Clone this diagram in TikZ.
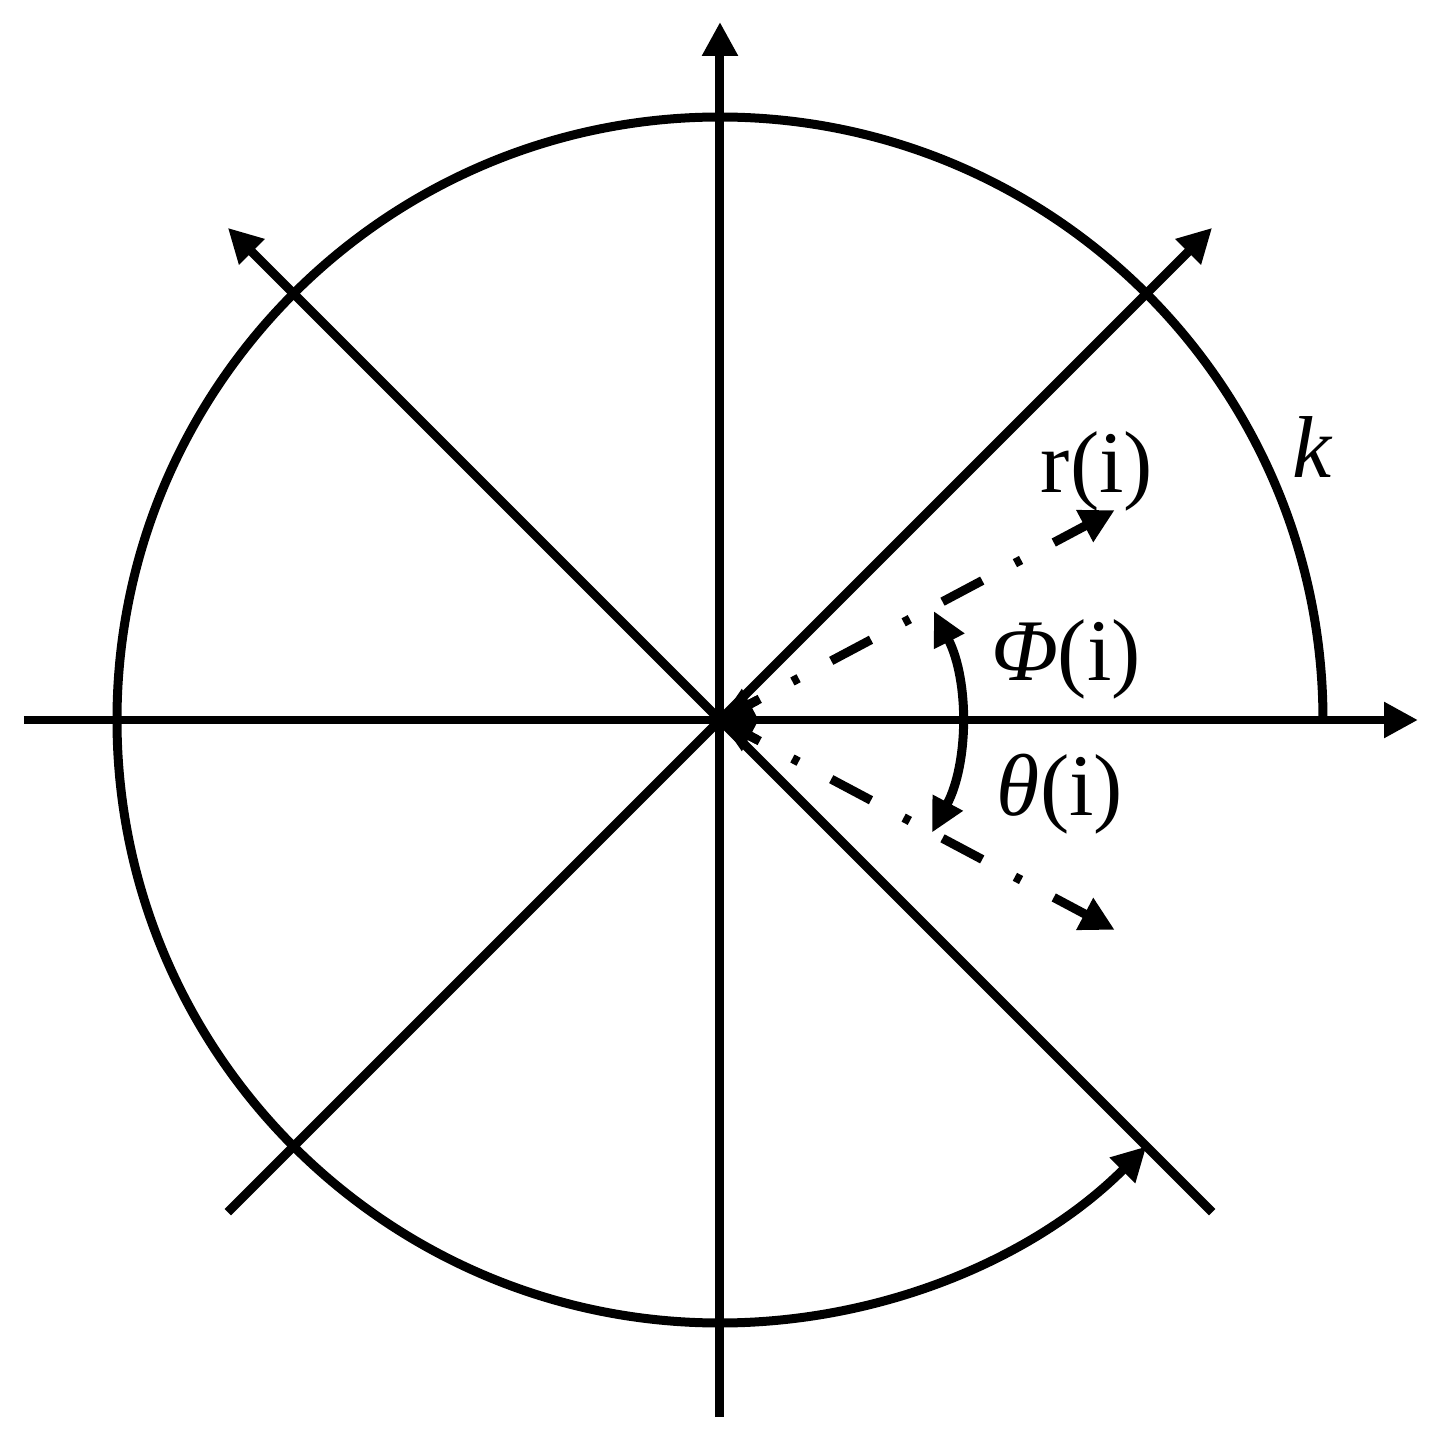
\documentclass[tikz,border=0pt]{standalone}
\usepackage{fontspec}
\setmainfont{Liberation Serif}
\usetikzlibrary{arrows.meta}
\begin{document}
\begin{tikzpicture}[x=1cm,y=1cm, line width=0.09cm,
  tip/.style={-{Triangle[length=0.34cm,width=0.34cm]}},
  twotip/.style={{Triangle[length=0.34cm,width=0.32cm]}-{Triangle[length=0.34cm,width=0.32cm]}},
  backtip/.style={{Triangle[length=0.34cm,width=0.32cm]}-},
  dashdot/.style={dash pattern=on 0.45cm off 0.37cm on 0.07cm off 0.37cm},
  lbl/.style={inner sep=0pt, font=\fontsize{25}{30}\selectfont}]
\useasboundingbox (-7.20,-7.20) rectangle (7.17,7.20);
\coordinate (O) at (0,0);
\coordinate (xl) at (-6.96,0);
\coordinate (xr) at (6.98,0);
\coordinate (yb) at (0,-6.97);
\coordinate (yt) at (0,6.98);
\coordinate (ne) at (45:6.96);
\coordinate (sw) at (225:6.96);
\coordinate (nw) at (135:6.96);
\coordinate (se) at (-45:6.96);
\coordinate (c0) at (6.03,0);
% axes
\draw[tip] (xl) -- (xr);
\draw[tip] (yb) -- (yt);
\draw[tip] (sw) -- (ne);
\draw[tip] (se) -- (nw);
% circle arc
\draw[tip] (c0) arc[start angle=0, end angle=315, radius=6.03];
% dash-dot vectors
\coordinate (ra) at (28:4.47);
\coordinate (ta) at (-28:4.47);
\coordinate (ra0) at (28:0.42);
\coordinate (ta0) at (-28:0.42);
\draw[tip, dashdot] (O) -- (ra);
\draw[tip, dashdot] (O) -- (ta);
\draw[backtip] (O) -- (ra0);
\draw[backtip] (O) -- (ta0);
% angle arc
\coordinate (a0) at (-28:2.4);
\draw[twotip] (a0) arc[start angle=-28, end angle=27, radius=2.4];
% labels
\node[lbl] (r) at (3.77,2.49) {r(i)};
\node[lbl] (k) at (5.93,2.73) {\textit{k}};
\node[lbl] (phi) at (3.46,0.61) {{\itshape Φ}(i)};
\node[lbl] (th) at (3.40,-0.74) {{\itshape θ}(i)};
\end{tikzpicture}
\end{document}
